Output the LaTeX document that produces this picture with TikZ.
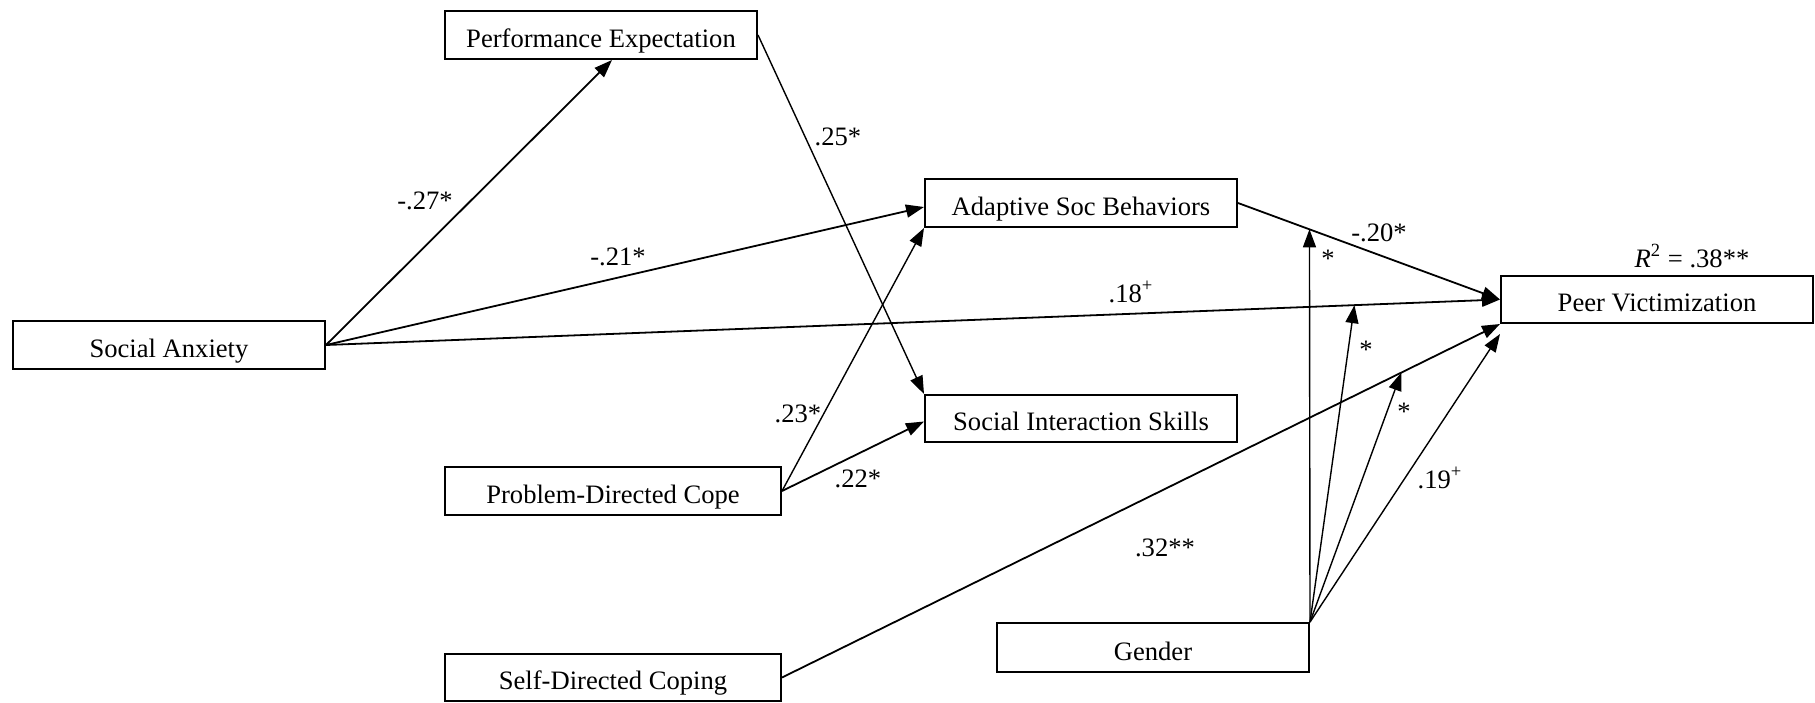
\documentclass[tikz,border=0pt]{standalone}
\usepackage{fontspec}
\setmainfont{Liberation Serif}
\usetikzlibrary{arrows.meta,calc}
\begin{document}
\begin{tikzpicture}[x=0.5pt,y=-0.5pt,
  box/.style={draw,line width=1pt,minimum width=156pt,minimum height=24pt,inner sep=0pt,
    text height=12pt,text depth=0pt,font=\fontsize{13.3}{15}\selectfont},
  lab/.style={font=\fontsize{13.3}{15}\selectfont,inner sep=0pt},
  arr/.style={line width=0.9pt,-{Triangle[length=9pt,width=6.5pt]}},
  arrthin/.style={line width=0.7pt,-{Triangle[length=9pt,width=6.5pt]}}]
\useasboundingbox (0,0) rectangle (1815,702);
% boxes
\node[box] (pe) at (601,35) {Performance Expectation};
\node[box] (sa) at (169,345) {Social Anxiety};
\node[box] (asb) at (1081,203) {Adaptive Soc Behaviors};
\node[box,minimum height=23.5pt] (pv) at (1657,299.5) {Peer Victimization};
\node[box,minimum height=23.5pt] (sis) at (1081,418.5) {Social Interaction Skills};
\node[box,minimum width=168pt] (pdc) at (613,491) {Problem-Directed Cope};
\node[box,minimum width=168pt,minimum height=23.5pt] (sdc) at (613,677.5) {Self-Directed Coping};
\node[box,minimum height=24.5pt,text height=13pt] (gender) at (1153,647.5) {Gender};
% paths
\draw[arr] (sa.east) -- ($(pe.south)+(11,0)$);
\draw[arr] (sa.east) -- ($(asb.west)+(0,4)$);
\draw[arr] (sa.east) -- (pv.west);
\draw[arrthin] (pe.east) -- (sis.north west);
\draw[arrthin] (pdc.east) -- (asb.south west);
\draw[arr] (pdc.east) -- ($(sis.west)+(0,3)$);
\draw[arr] (asb.east) -- (pv.west);
\draw[arr] (sdc.east) -- (pv.south west);
\draw[arrthin] (gender.north east) -- ($(pv.south west)+(0,10)$);
% moderation arrows
\coordinate (m1) at ($(asb.east)!0.2727!(pv.west)$);
\coordinate (m2) at ($(sa.east)!0.876!(pv.west)$);
\coordinate (m3) at ($(sdc.east)!0.8625!(pv.south west)$);
\draw[arrthin] (gender.north east) -- (m1);
\draw[arrthin] (gender.north east) -- (m2);
\draw[arrthin] (gender.north east) -- (m3);
% labels
\node[lab] (l27) at (425,201) {-.27*};
\node[lab] (l21) at (618,257) {-.21*};
\node[lab] (l18) at (1131,292) {.18\textsuperscript{+}};
\node[lab] (l25) at (838,137) {.25*};
\node[lab] (l23) at (798,414) {.23*};
\node[lab] (l22) at (858,479) {.22*};
\node[lab] (l20) at (1379,233) {-.20*};
\node[lab] (l32) at (1165,548) {.32**};
\node[lab] (l19) at (1440,478) {.19\textsuperscript{+}};
\node[lab] (s1) at (1328,259) {*};
\node[lab] (s2) at (1366,350) {*};
\node[lab] (s3) at (1404,412) {*};
\node[lab,anchor=base] (r2) at (1692,267) {\textit{R}\textsuperscript{2} = .38**};
\end{tikzpicture}
\end{document}
